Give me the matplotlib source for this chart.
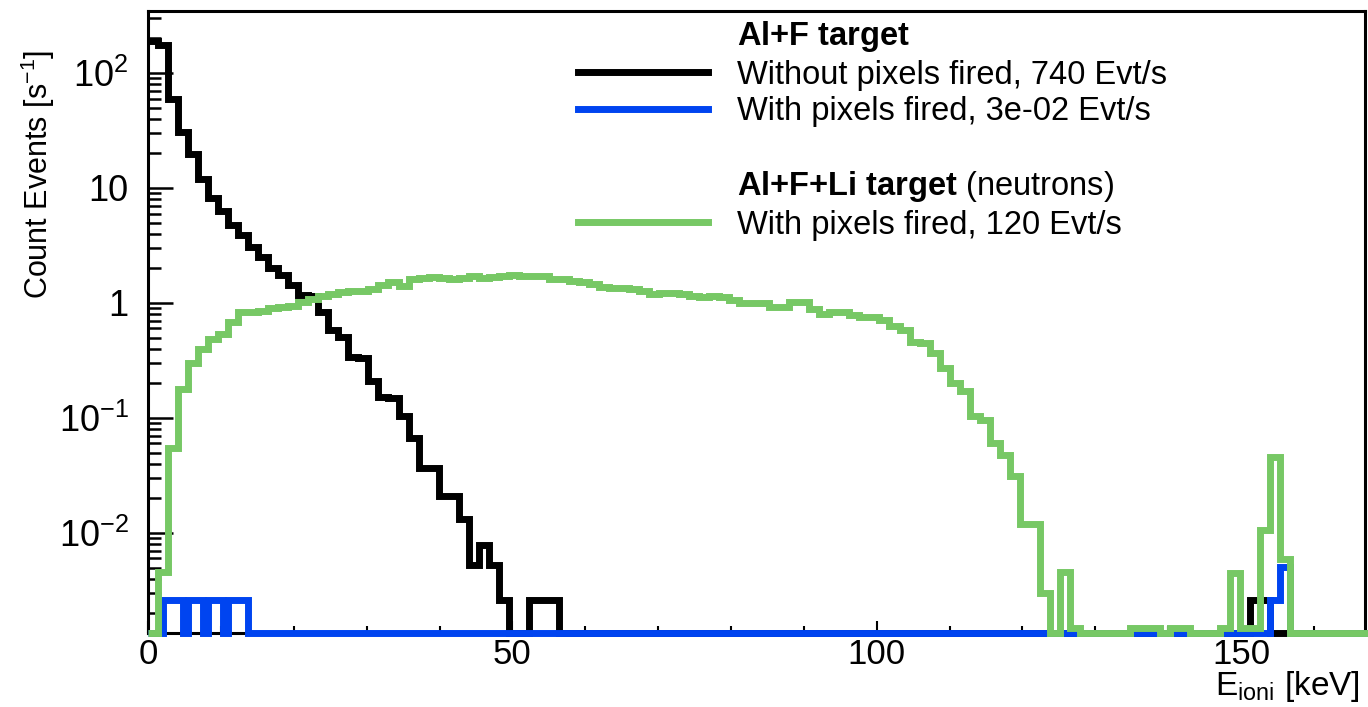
import numpy as np
import matplotlib
matplotlib.use("Agg")
import matplotlib.pyplot as plt
from matplotlib.lines import Line2D
from matplotlib.ticker import LogLocator, MultipleLocator, FuncFormatter, NullFormatter

plt.rcParams['font.family'] = ['Liberation Sans', 'DejaVu Sans']
plt.rcParams['mathtext.fontset'] = 'custom'
plt.rcParams['mathtext.rm'] = 'Liberation Sans'
plt.rcParams['mathtext.it'] = 'Liberation Sans:italic'
plt.rcParams['mathtext.bf'] = 'Liberation Sans:bold'

# binning (keV)
bin_width = 1.375
n_bins = 122
fine_width = bin_width / 2      # the "with pixels fired" Al+F histogram is finer
n_fine = 2 * n_bins

# Al+F target, without pixels fired [1/s]
black_vals = [190, 175, 60, 31, 19.8, 11.9, 8.2, 6.3, 4.8, 3.9,
              3.05, 2.53, 2.03, 1.75, 1.43, 1.17, 1.15, 0.84, 0.58, 0.51,
              0.34, 0.33, 0.21, 0.153, 0.15, 0.105, 0.067, 0.037, 0.037, 0.021,
              0.021, 0.0132, 0.0053, 0.0079, 0.0053, 0.0026, 0, 0, 0.0026, 0.0026,
              0.0026]
black_tail_bins = [110, 111]
black_tail_vals = [0.0026, 0.0026]

# Al+F target, with pixels fired (fine bins)
blue_bins = [3, 4, 5, 6, 8, 9, 10, 12, 13, 14, 16, 17, 18, 19, 224, 225, 226, 227]
blue_vals = [0.0026] * 16 + [0.0051, 0.0051]

# Al+F+Li target (neutrons), with pixels fired
green_vals = [0, 0.0046, 0.055, 0.18, 0.30, 0.40, 0.49, 0.54, 0.69, 0.83,
              0.84, 0.85, 0.90, 0.92, 0.94, 1.01, 1.08, 1.15, 1.20, 1.24,
              1.27, 1.28, 1.32, 1.44, 1.53, 1.40, 1.62, 1.66, 1.68, 1.66,
              1.62, 1.64, 1.72, 1.66, 1.68, 1.70, 1.74, 1.70, 1.72, 1.70,
              1.62, 1.62, 1.54, 1.51, 1.46, 1.37, 1.35, 1.34, 1.32, 1.26,
              1.20, 1.21, 1.21, 1.20, 1.16, 1.12, 1.14, 1.12, 1.06, 1.00,
              1.00, 1.00, 0.93, 0.92, 1.01, 1.01, 0.89, 0.81, 0.83, 0.83,
              0.78, 0.75, 0.75, 0.71, 0.63, 0.58, 0.455, 0.45, 0.37, 0.27,
              0.20, 0.17, 0.105, 0.096, 0.060, 0.048, 0.031, 0.012, 0.012, 0.0030,
              0, 0.0046, 0.0015, 0, 0, 0, 0, 0, 0.0015, 0.0015,
              0.0015, 0, 0.0015, 0.0015, 0, 0, 0, 0.0015, 0.0045, 0.0015,
              0.0015, 0.0107, 0.046, 0.0059]

x_max = 167.0
y_min, y_max = 1.336e-3, 346.0

edges = np.arange(n_bins + 1) * bin_width
fine_edges = np.arange(n_fine + 1) * fine_width

black = np.zeros(n_bins)
black[:len(black_vals)] = black_vals
black[black_tail_bins] = black_tail_vals
blue = np.zeros(n_fine)
blue[blue_bins] = blue_vals
green = np.zeros(n_bins)
green[:len(green_vals)] = green_vals


def floor(v):
    # empty bins sit on the bottom of the log frame, as in ROOT
    return np.where(v > 0, v, y_min)


c_black = '#000000'
c_blue = '#0044f0'
c_green = '#77c865'
lw = 5

fig = plt.figure(figsize=(13.68, 7.07), dpi=100)
ax = fig.add_axes([0.1082, 0.104, 0.8896, 0.8804])

ax.stairs(floor(black), edges, baseline=None, color=c_black, lw=lw, zorder=3, clip_on=False)
ax.stairs(floor(blue), fine_edges, baseline=None, color=c_blue, lw=lw, zorder=4, clip_on=False)
ax.stairs(floor(green), edges, baseline=None, color=c_green, lw=lw, zorder=5, clip_on=False)

ax.set_yscale('log')
ax.set_xlim(0, x_max)
ax.set_ylim(y_min, y_max)


def ylab(v, pos):
    e = int(round(np.log10(v)))
    if e == 0:
        return '1'
    if e == 1:
        return '10'
    return r'$10^{%d}$' % e


ax.yaxis.set_major_locator(LogLocator(base=10))
ax.yaxis.set_minor_locator(LogLocator(base=10, subs=np.arange(2, 10)))
ax.yaxis.set_major_formatter(FuncFormatter(ylab))
ax.yaxis.set_minor_formatter(NullFormatter())
ax.xaxis.set_major_locator(MultipleLocator(50))
ax.xaxis.set_minor_locator(MultipleLocator(10))

ax.tick_params(axis='y', which='major', direction='in', length=18, width=1.8, labelsize=26, pad=14)
ax.tick_params(axis='y', which='minor', direction='in', length=9.4, width=1.8)
ax.tick_params(axis='x', which='major', direction='in', length=9, width=1.5, labelsize=25, pad=3)
ax.tick_params(axis='x', which='minor', direction='in', length=4.7, width=1.5)
for s in ax.spines.values():
    s.set_linewidth(2.2)

ax.set_ylabel(r'Count Events [s$^{-1}$]', fontsize=22, loc='top')
ax.yaxis.set_label_coords(-0.0745, 0.937)
ax.set_xlabel(r'E$_{\rm ioni}$ [keV]', fontsize=24, loc='right')
ax.xaxis.set_label_coords(0.996, -0.057)

blank = Line2D([], [], linestyle='none')
handles = [blank,
           Line2D([], [], color=c_black, lw=lw),
           Line2D([], [], color=c_blue, lw=lw),
           blank, blank,
           Line2D([], [], color=c_green, lw=lw)]
labels = [r'$\mathbf{Al{+}F\ target}$',
          'Without pixels fired, 740 Evt/s',
          'With pixels fired, 3e-02 Evt/s',
          ' ',
          r'$\mathbf{Al{+}F{+}Li\ target}$ (neutrons)',
          'With pixels fired, 120 Evt/s']
ax.legend(handles, labels, loc='upper left', bbox_to_anchor=(578 / 1368, 1 - 19 / 707),
          bbox_transform=fig.transFigure, frameon=False, fontsize=23.5,
          handlelength=3.98, handletextpad=0.89, labelspacing=0.17,
          borderpad=0, borderaxespad=0)

fig.savefig('out.png', dpi=100)
